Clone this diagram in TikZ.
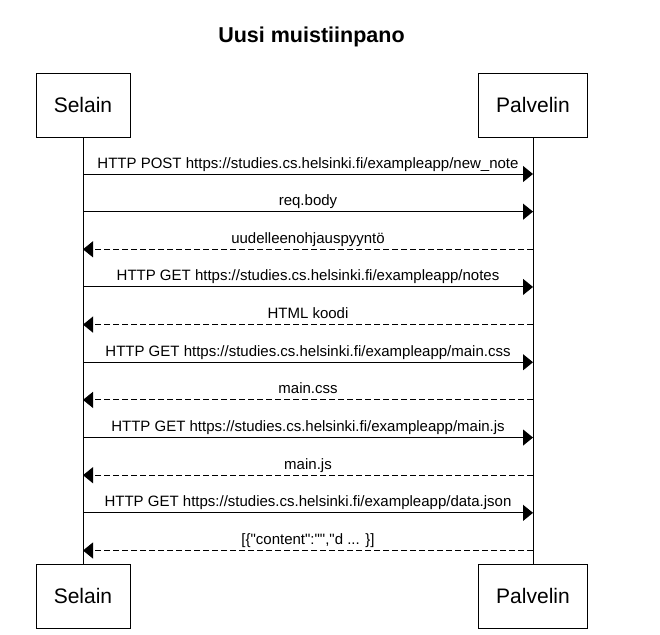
\documentclass[tikz,border=0pt]{standalone}
\usepackage{fontspec}
\setmainfont{Liberation Sans}
\usetikzlibrary{arrows.meta}
\begin{document}
\begin{tikzpicture}[x=1pt,y=-1pt,
    actor/.style={draw,line width=1pt,minimum width=#1,minimum height=64pt,inner sep=0pt,font=\fontsize{21}{24}\selectfont},
    msg/.style={line width=1pt,-{Triangle[length=10pt,width=16pt]}},
    reply/.style={msg,dash pattern=on 6pt off 3pt},
    lbl/.style={anchor=base,yshift=6pt,inner sep=0pt,font=\fontsize{15}{18}\selectfont}]
  \useasboundingbox (0,0) rectangle (660,634);
  \node[anchor=base,font=\bfseries\fontsize{21.5}{24}\selectfont] (title) at (311.5,43) {Uusi muistiinpano};
  \node[actor=94pt] (S) at (83,105) {Selain};
  \node[actor=109pt] (P) at (533,105) {Palvelin};
  \node[actor=94pt] (S2) at (83,596) {Selain};
  \node[actor=109pt] (P2) at (533,596) {Palvelin};
  \draw[line width=1pt] (S) -- (S2);
  \draw[line width=1pt] (P) -- (P2);
  \foreach \i in {0,...,10}
    \path (S) ++(0,{69+37.65*\i}) coordinate (s\i)
          (P) ++(0,{69+37.65*\i}) coordinate (p\i);
  \draw[msg] (s0) -- node[lbl] {HTTP POST https://studies.cs.helsinki.fi/exampleapp/new\_note} (p0);
  \draw[msg] (s1) -- node[lbl] {req.body} (p1);
  \draw[reply] (p2) -- node[lbl] {uudelleenohjauspyyntö} (s2);
  \draw[msg] (s3) -- node[lbl] {HTTP GET https://studies.cs.helsinki.fi/exampleapp/notes} (p3);
  \draw[reply] (p4) -- node[lbl] {HTML koodi} (s4);
  \draw[msg] (s5) -- node[lbl] {HTTP GET https://studies.cs.helsinki.fi/exampleapp/main.css} (p5);
  \draw[reply] (p6) -- node[lbl] {main.css} (s6);
  \draw[msg] (s7) -- node[lbl] {HTTP GET https://studies.cs.helsinki.fi/exampleapp/main.js} (p7);
  \draw[reply] (p8) -- node[lbl] {main.js} (s8);
  \draw[msg] (s9) -- node[lbl] {HTTP GET https://studies.cs.helsinki.fi/exampleapp/data.json} (p9);
  \draw[reply] (p10) -- node[lbl] {[\{\textquotedbl content\textquotedbl:\textquotedbl\textquotedbl,\textquotedbl d ... \}]} (s10);
\end{tikzpicture}
\end{document}
